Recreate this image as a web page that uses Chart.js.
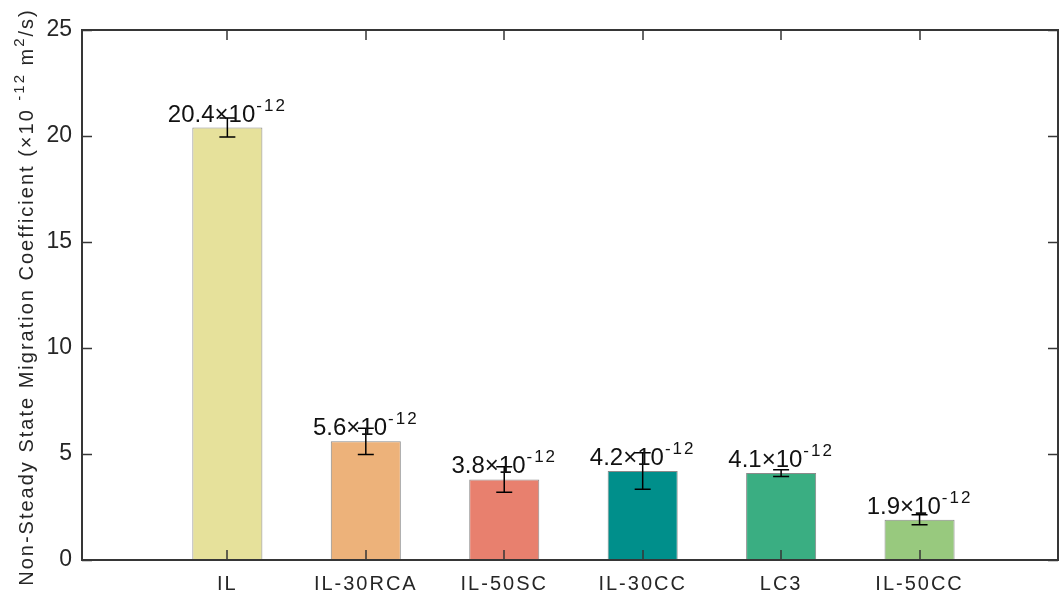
<!DOCTYPE html>
<html>
<head>
<meta charset="utf-8">
<script src="https://cdn.jsdelivr.net/npm/chart.js@4/dist/chart.umd.min.js"></script>
<style>
  html, body { margin: 0; padding: 0; background: #ffffff; }
  #wrap { width: 1060px; height: 596px; }
</style>
</head>
<body>
<div id="wrap"><canvas id="chart" width="1060" height="596"></canvas></div>
<script>
// Mixes and their non-steady state migration coefficients (x10^-12 m^2/s)
const categories = ['IL', 'IL-30RCA', 'IL-50SC', 'IL-30CC', 'LC3', 'IL-50CC'];
const positions  = [1, 2, 3, 4, 5, 6];
const means      = [20.4, 5.6, 3.8, 4.2, 4.1, 1.9];
const errors     = [0.45, 0.62, 0.6, 0.86, 0.16, 0.24];
const yTicks     = [0, 5, 10, 15, 20, 25];
const barColors  = ['#e6e19b', '#edb27a', '#e8806e', '#008f8b', '#3aae82', '#98c97e'];

// y-axis title pieces: [text, superscript?]
const yTitleParts = [
  ['Non-Steady State Migration Coefficient (×10 ', false],
  ['-12', true],
  [' m', false],
  ['2', true],
  ['/s)', false]
];

const FONT = '"Liberation Sans", Arial, Helvetica, sans-serif';
const INK = '#262626';
const AXIS = '#363636';

// error bars, value labels, inward ticks, box and the y-axis title
const decorations = {
  id: 'decorations',
  afterUpdate(chart) {
    const sx = chart.scales.x;
    if (sx && !sx._spaced) {
      const draw = sx.drawLabels.bind(sx);
      sx.drawLabels = function (area) {
        const c = this.ctx;
        c.save();
        c.letterSpacing = '2px';
        draw(area);
        c.restore();
      };
      sx._spaced = true;
    }
  },
  afterDatasetsDraw(chart) {
    const { ctx, chartArea: a, scales: { x, y } } = chart;
    const bars = chart.getDatasetMeta(0).data;

    // error bars
    ctx.save();
    ctx.strokeStyle = '#000000';
    ctx.lineWidth = 1.5;
    bars.forEach((bar, i) => {
      const cx = bar.x;
      const yt = y.getPixelForValue(means[i] + errors[i]);
      const yb = y.getPixelForValue(means[i] - errors[i]);
      ctx.beginPath();
      ctx.moveTo(cx, yt); ctx.lineTo(cx, yb);
      ctx.moveTo(cx - 8, yt); ctx.lineTo(cx + 8, yt);
      ctx.moveTo(cx - 8, yb); ctx.lineTo(cx + 8, yb);
      ctx.stroke();
    });
    ctx.restore();

    // value labels: "20.4×10" with a raised "-12"
    ctx.save();
    ctx.fillStyle = '#111111';
    ctx.textBaseline = 'alphabetic';
    ctx.textAlign = 'left';
    const mainFont = '24px ' + FONT;
    const supFont = '17px ' + FONT;
    bars.forEach((bar, i) => {
      const main = means[i].toFixed(1) + '×10';
      const sup = '-12';
      ctx.letterSpacing = '0px';
      ctx.font = mainFont;
      const wm = ctx.measureText(main).width;
      ctx.font = supFont;
      ctx.letterSpacing = '2px';
      const ws = ctx.measureText(sup).width;
      const start = bar.x - (wm + ws + 1) / 2;
      const base = y.getPixelForValue(means[i]) - 6;
      ctx.letterSpacing = '0px';
      ctx.font = mainFont;
      ctx.fillText(main, start, base);
      ctx.letterSpacing = '2px';
      ctx.font = supFont;
      ctx.fillText(sup, start + wm + 1, base - 11);
    });
    ctx.restore();

    // inward ticks and box
    ctx.save();
    ctx.strokeStyle = AXIS;
    ctx.lineWidth = 1.5;
    ctx.beginPath();
    y.ticks.forEach(t => {
      const py = Math.round(y.getPixelForValue(t.value)) + 0.5;
      ctx.moveTo(a.left, py); ctx.lineTo(a.left + 10, py);
      ctx.moveTo(a.right, py); ctx.lineTo(a.right - 10, py);
    });
    x.ticks.forEach(t => {
      const px = Math.round(x.getPixelForValue(t.value));
      ctx.moveTo(px, a.bottom); ctx.lineTo(px, a.bottom - 10);
      ctx.moveTo(px, a.top); ctx.lineTo(px, a.top + 10);
    });
    ctx.stroke();
    ctx.lineWidth = 2;
    ctx.strokeRect(a.left, a.top, a.right - a.left, a.bottom - a.top);
    ctx.restore();

    // rotated y-axis title with superscripts
    ctx.save();
    ctx.fillStyle = INK;
    ctx.textBaseline = 'alphabetic';
    ctx.textAlign = 'left';
    ctx.letterSpacing = '2px';
    const normal = '20px ' + FONT;
    const small = '15px ' + FONT;
    const widths = yTitleParts.map(([t, s]) => { ctx.font = s ? small : normal; return ctx.measureText(t).width; });
    const total = widths.reduce((p, q) => p + q, 0);
    const cy = (a.top + a.bottom) / 2 + 2;
    ctx.translate(33, cy);
    ctx.rotate(-Math.PI / 2);
    let pos = -total / 2;
    yTitleParts.forEach(([t, s], i) => {
      ctx.font = s ? small : normal;
      ctx.fillText(t, pos, s ? -9 : 0);
      pos += widths[i];
    });
    ctx.restore();
  }
};

new Chart(document.getElementById('chart').getContext('2d'), {
  type: 'bar',
  data: {
    datasets: [{
      data: positions.map((p, i) => ({ x: p, y: means[i] })),
      backgroundColor: barColors,
      borderColor: 'rgba(60,60,60,0.6)',
      borderWidth: 1,
      barPercentage: 0.506,
      categoryPercentage: 1
    }]
  },
  options: {
    responsive: false,
    animation: false,
    devicePixelRatio: 1,
    layout: { padding: { top: 30, right: 2, left: 0, bottom: 0 } },
    plugins: { legend: { display: false }, tooltip: { enabled: false } },
    scales: {
      x: {
        type: 'linear',
        offset: false,
        min: -0.05,
        max: 7,
        afterBuildTicks: s => { s.ticks = positions.map(v => ({ value: v })); },
        afterFit: s => { s.height = 36; },
        grid: { display: false, drawTicks: false },
        border: { display: false },
        ticks: {
          autoSkip: false,
          maxRotation: 0,
          padding: 12,
          color: INK,
          font: { family: FONT, size: 20 },
          callback: v => { const k = positions.indexOf(v); return k >= 0 ? categories[k] : ''; }
        }
      },
      y: {
        min: 0,
        max: 25,
        afterBuildTicks: s => { s.ticks = yTicks.map(v => ({ value: v })); },
        afterFit: s => { s.width = 82; },
        grid: { display: false, drawTicks: false },
        border: { display: false },
        ticks: {
          padding: 10,
          color: INK,
          font: { family: FONT, size: 23 }
        }
      }
    }
  },
  plugins: [decorations]
});
</script>
</body>
</html>
